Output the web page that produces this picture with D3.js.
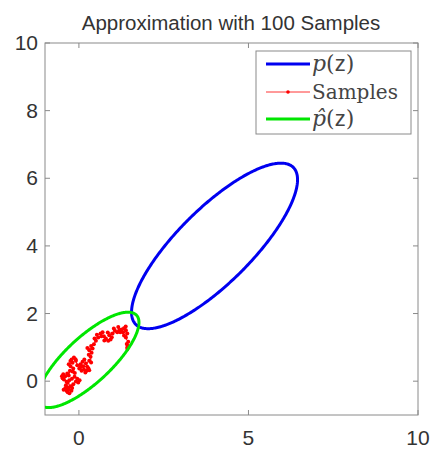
<!DOCTYPE html>
<html>
<head>
<meta charset="utf-8">
<script src="https://cdn.jsdelivr.net/npm/d3@7"></script>
<style>
  body { margin: 0; background: #fff; }
  svg { display: block; }
</style>
</head>
<body>
<div id="chart"></div>
<script>
(function () {
  // Data
  const xTicks = [0, 5, 10];
  const yTicks = [0, 2, 4, 6, 8, 10];
  const trueMean = [4, 4];
  const trueCov = [[1, 0.8], [0.8, 1]];
  const estMean = [0.28, 0.63];
  const estCov = [[0.371, 0.275], [0.275, 0.332]];
  const chi2 = 5.991; // 95% contour, 2 dof
  const sampleX = [
    -0.28, -0.22, -0.3, -0.4, -0.45, -0.364, -0.33, -0.315, -0.383, -0.33,
    -0.246, -0.2, -0.167, -0.088, -0.02, 0.02, -0.049, -0.128, -0.206, -0.285,
    -0.364, -0.442, -0.501, -0.48, -0.462, -0.403, -0.344, -0.3, -0.265, -0.187,
    -0.12, -0.167, -0.246, -0.3, -0.187, -0.25, -0.216, -0.147, -0.1, -0.088,
    -0.049, 0.01, 0.05, 0.079, 0.147, 0.19, 0.226, 0.305, 0.28, 0.246,
    0.128, 0.049, 0.108, 0.16, 0.206, 0.305, 0.36, 0.344, 0.29, 0.374,
    0.305, 0.25, 0.403, 0.36, 0.442, 0.501, 0.46, 0.57, 0.53, 0.639,
    0.698, 0.66, 0.737, 0.796, 0.75, 0.865, 0.934, 0.97, 0.895, 0.85,
    0.993, 1.062, 1.03, 1.131, 1.19, 1.16, 1.259, 1.22, 1.327, 1.38,
    1.386, 1.3, 1.426, 1.386, 1.33, 1.455, 1.41, 1.426, 1.44, 1.43
  ];
  const sampleY = [
    -0.36, -0.28, -0.24, -0.2, -0.25, -0.286, -0.33, -0.187, -0.118, -0.05,
    -0.148, -0.2, -0.089, -0.01, -0.039, 0.03, 0.069, 0.128, 0.069, 0.03,
    -0.02, 0.049, 0.148, 0.09, 0.207, 0.148, 0.227, 0.17, 0.306, 0.286,
    0.24, 0.375, 0.444, 0.5, 0.542, 0.6, 0.641, 0.7, 0.65, 0.602,
    0.473, 0.375, 0.42, 0.306, 0.345, 0.26, 0.306, 0.325, 0.38, 0.424,
    0.444, 0.503, 0.572, 0.64, 0.523, 0.602, 0.55, 0.72, 0.78, 0.838,
    0.917, 0.98, 0.966, 1.04, 1.095, 1.193, 1.26, 1.292, 1.37, 1.41,
    1.45, 1.33, 1.331, 1.262, 1.2, 1.193, 1.233, 1.3, 1.361, 1.44,
    1.41, 1.489, 1.56, 1.45, 1.509, 1.6, 1.529, 1.45, 1.568, 1.62,
    1.509, 1.45, 1.41, 1.292, 1.35, 1.164, 1.1, 0.996, 1.05, 0.95
  ];

  // Dimensions
  const width = 433;
  const height = 449;
  const plot = { left: 45, right: 418, top: 43, bottom: 415 };

  // Style
  const blue = "#0000f0";
  const green = "#00e600";
  const red = "#ff0000";
  const frameColor = "#8a8a8a";
  const textColor = "#333";

  const x = d3.scaleLinear([-1, 10], [plot.left, plot.right]);
  const y = d3.scaleLinear([-1, 10], [plot.bottom, plot.top]);

  const svg = d3.select("#chart").append("svg")
    .attr("width", width).attr("height", height);

  svg.append("defs").append("clipPath").attr("id", "clip")
    .append("rect")
    .attr("x", plot.left).attr("y", plot.top)
    .attr("width", plot.right - plot.left).attr("height", plot.bottom - plot.top);

  // Frame + ticks
  const frame = svg.append("g").attr("stroke", frameColor).attr("fill", "none");
  frame.append("rect")
    .attr("x", plot.left).attr("y", plot.top)
    .attr("width", plot.right - plot.left).attr("height", plot.bottom - plot.top);
  xTicks.forEach((t) => {
    frame.append("line").attr("x1", x(t)).attr("x2", x(t)).attr("y1", plot.bottom).attr("y2", plot.bottom - 5);
    frame.append("line").attr("x1", x(t)).attr("x2", x(t)).attr("y1", plot.top).attr("y2", plot.top + 5);
  });
  yTicks.forEach((t) => {
    frame.append("line").attr("y1", y(t)).attr("y2", y(t)).attr("x1", plot.left).attr("x2", plot.left + 5);
    frame.append("line").attr("y1", y(t)).attr("y2", y(t)).attr("x1", plot.right).attr("x2", plot.right - 5);
  });

  const labels = svg.append("g")
    .attr("font-family", "Liberation Sans, Arial, sans-serif")
    .attr("font-size", 21).attr("fill", textColor);
  labels.selectAll(".xl").data(xTicks).join("text")
    .attr("x", (d) => x(d)).attr("y", 445).attr("text-anchor", "middle").text((d) => d);
  labels.selectAll(".yl").data(yTicks).join("text")
    .attr("x", 38).attr("y", (d) => y(d) + 7).attr("text-anchor", "end").text((d) => d);

  svg.append("text")
    .attr("x", 231).attr("y", 30)
    .attr("text-anchor", "middle")
    .attr("font-family", "Liberation Sans, Arial, sans-serif")
    .attr("font-size", 20.5).attr("fill", textColor)
    .text("Approximation with 100 Samples");

  // Ellipse from mean / covariance
  function ellipse(mean, cov) {
    const a = cov[0][0], b = cov[0][1], c = cov[1][1];
    const half = (a + c) / 2;
    const r = Math.sqrt(((a - c) / 2) ** 2 + b * b);
    const l1 = half + r, l2 = half - r;
    const theta = Math.atan2(l1 - a, b);
    const s1 = Math.sqrt(chi2 * l1), s2 = Math.sqrt(chi2 * l2);
    return d3.range(0, 361).map((deg) => {
      const t = (deg * Math.PI) / 180;
      const u = s1 * Math.cos(t), v = s2 * Math.sin(t);
      return [
        mean[0] + u * Math.cos(theta) - v * Math.sin(theta),
        mean[1] + u * Math.sin(theta) + v * Math.cos(theta),
      ];
    });
  }

  const line = d3.line().x((d) => x(d[0])).y((d) => y(d[1]));
  const marks = svg.append("g").attr("clip-path", "url(#clip)");

  marks.append("path")
    .attr("d", line(ellipse(trueMean, trueCov)))
    .attr("fill", "none").attr("stroke", blue).attr("stroke-width", 3);

  const samples = sampleX.map((v, i) => [v, sampleY[i]]);
  marks.append("path")
    .attr("d", line(samples))
    .attr("fill", "none").attr("stroke", red).attr("stroke-width", 1);
  marks.selectAll(".dot").data(samples).join("circle")
    .attr("cx", (d) => x(d[0])).attr("cy", (d) => y(d[1]))
    .attr("r", 2).attr("fill", red);

  marks.append("path")
    .attr("d", line(ellipse(estMean, estCov)))
    .attr("fill", "none").attr("stroke", green).attr("stroke-width", 3);

  // Legend
  const legend = svg.append("g");
  legend.append("rect")
    .attr("x", 256).attr("y", 51).attr("width", 155).attr("height", 83)
    .attr("fill", "#fff").attr("stroke", frameColor);
  const entries = [
    { color: blue, w: 3, dot: false, y: 64, label: "p", hat: false },
    { color: red, w: 0.8, dot: true, y: 92, label: "Samples" },
    { color: green, w: 3, dot: false, y: 119, label: "p", hat: true },
  ];
  entries.forEach((e) => {
    legend.append("line")
      .attr("x1", 266).attr("x2", 310).attr("y1", e.y).attr("y2", e.y)
      .attr("stroke", e.color).attr("stroke-width", e.w);
    if (e.dot) {
      legend.append("circle").attr("cx", 288).attr("cy", e.y).attr("r", 1.8).attr("fill", e.color);
    }
    const t = legend.append("text")
      .attr("x", 312).attr("y", e.y + 7)
      .attr("font-family", "DejaVu Serif, Liberation Serif, serif")
      .attr("font-size", 22).attr("fill", "#444");
    if (e.label === "Samples") {
      t.attr("font-size", 20).text("Samples");
    } else {
      t.append("tspan").attr("font-style", "italic").text(e.hat ? "p\u0302" : "p");
      t.append("tspan").text("(");
      t.append("tspan").attr("font-family", "Liberation Sans, Arial, sans-serif").text("z");
      t.append("tspan").text(")");
    }
  });
})();
</script>
</body>
</html>
